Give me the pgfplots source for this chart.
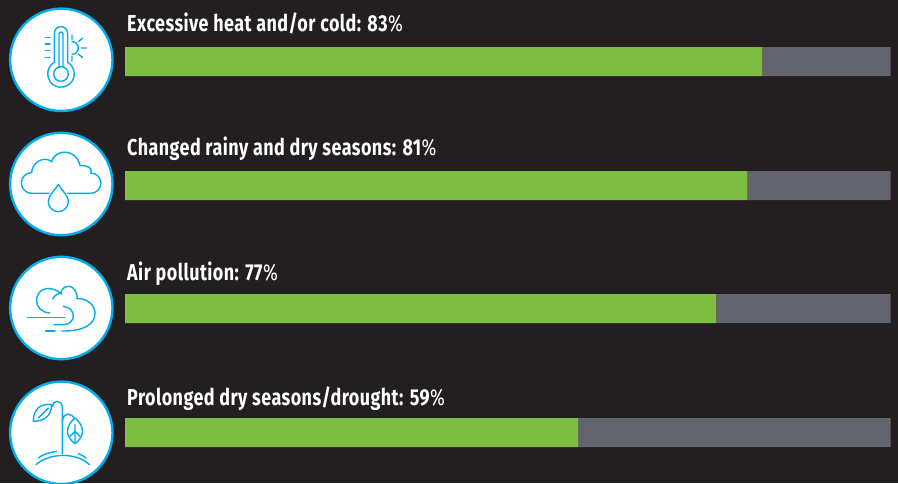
\documentclass[border=0pt]{standalone}
\usepackage{fontspec}
\usepackage{pgfplots}
\pgfplotsset{compat=1.18}
\setmainfont{Fira Sans}
\newfontfamily\lab[FakeStretch=0.78,LetterSpace=2]{Fira Sans}
\definecolor{bg}{HTML}{231F20}
\definecolor{grn}{HTML}{7FBD42}
\definecolor{gry}{HTML}{62656D}
\definecolor{cy}{HTML}{00AEEF}
\newcommand{\lbl}[3]{\node[anchor=base west,inner sep=0pt,text=white,font=\lab\fontsize{23}{26}\selectfont] at (127,#1) {\textbf{#2: #3}\%};}
\begin{document}
\begin{tikzpicture}
\useasboundingbox (0,0) rectangle (898pt,483pt);
\begin{axis}[
  at={(0,0)},anchor=south west,
  scale only axis,width=898pt,height=483pt,
  axis lines=none,
  axis background/.style={fill=bg},
  xmin=-16.276,xmax=100.651,
  ymin=0,ymax=483,y dir=reverse,
  xbar stacked,bar width=29pt,
]
\addplot[draw=none,fill=grn] coordinates {(83,61.5) (81,185.5) (77,308.5) (59,432.5)};
\addplot[draw=none,fill=gry] coordinates {(16.7,61.5) (18.7,185.5) (22.7,308.5) (40.7,432.5)};
\end{axis}
\begin{scope}
\clip (0,0) rectangle (898pt,483pt);
\begin{scope}[shift={(0pt,483pt)},x=1pt,y=1pt,yscale=-1]
\foreach \c in {59.8,184,308,432.8}{
  \draw[cy,fill=white,line width=2.4pt] (61.3,\c) circle[radius=51.2];
}
\lbl{32}{Excessive heat and/or cold}{83}
\lbl{156}{Changed rainy and dry seasons}{81}
\lbl{280}{Air pollution}{77}
\lbl{405}{Prolonged dry seasons/drought}{59}
\end{scope}
\begin{scope}[shift={(0pt,483pt)},x=0.33333pt,y=0.33333pt,yscale=-1,cy,line width=1.4pt,line cap=round,line join=round]
% thermometer
\draw (163,100) arc[start angle=180,end angle=360,radius=20] -- (203,187) arc[start angle=300,end angle=600,radius=40] -- cycle;
\draw (183,222) circle[radius=22];
\draw (177,201) -- (177,102) arc[start angle=180,end angle=360,radius=6] -- (189,201);
\foreach \y in {112,132,152,172} \draw (136,\y)--(150,\y);
\draw (216,125) arc[start angle=-90,end angle=90,radius=19];
\draw (216,105)--(216,118) (235,125)--(247,115) (243,144)--(260,144) (235,162)--(247,172) (216,170)--(216,183);
% cloud + drop
\draw (147,580) -- (95,580) arc[start angle=90,end angle=270,radius=31]
  .. controls (95,490) and (130,465) .. (155,485)
  .. controls (165,445) and (230,445) .. (240,497)
  .. controls (262,495) and (280,505) .. (272,519)
  arc[start angle=-90,end angle=90,radius=30.5] -- (203,580);
\draw (175,553) .. controls (165,572) and (145,585) .. (145,605) arc[start angle=180,end angle=0,radius=30] .. controls (205,585) and (185,572) .. (175,553);
\end{scope}
\begin{scope}[shift={(0pt,240pt)},x=0.33333pt,y=0.33333pt,yscale=-1,cy,line width=1.4pt,line cap=round,line join=round]
% air pollution
\draw (82,224)--(195,224) (137,264)--(165,264);
\draw (185,264) .. controls (250,265) and (285,245) .. (285,210) .. controls (285,185) and (260,165) .. (230,167);
\draw (158,168) .. controls (165,155) and (175,150) .. (185,152);
\draw (182,150) .. controls (190,122) and (228,120) .. (232,165);
\draw (150,210) .. controls (125,208) and (110,195) .. (110,170) .. controls (110,145) and (140,120) .. (182,150);
\draw (162,245) -- (190,245) .. controls (228,245) and (232,195) .. (190,190);
% plant
\draw (187,632) -- (187,490) arc[start angle=0,end angle=-180,radius=15];
\draw (155,485) .. controls (120,480) and (100,500) .. (100,535) .. controls (130,535) and (155,520) .. (155,485);
\draw (115,525)--(145,495);
\draw (187,535) .. controls (190,505) and (215,510) .. (224,527);
\draw (225,525) .. controls (195,550) and (195,580) .. (225,602) .. controls (255,580) and (255,550) .. (225,525);
\draw (225,545)--(225,600) (210,580)--(225,565) (240,580)--(225,565);
\draw (108,665) .. controls (150,628) and (230,628) .. (268,665);
\draw (115,645) .. controls (130,633) and (150,628) .. (170,625);
\draw (235,632) .. controls (245,635) and (252,640) .. (258,645);
\end{scope}
\end{scope}
\end{tikzpicture}
\end{document}
